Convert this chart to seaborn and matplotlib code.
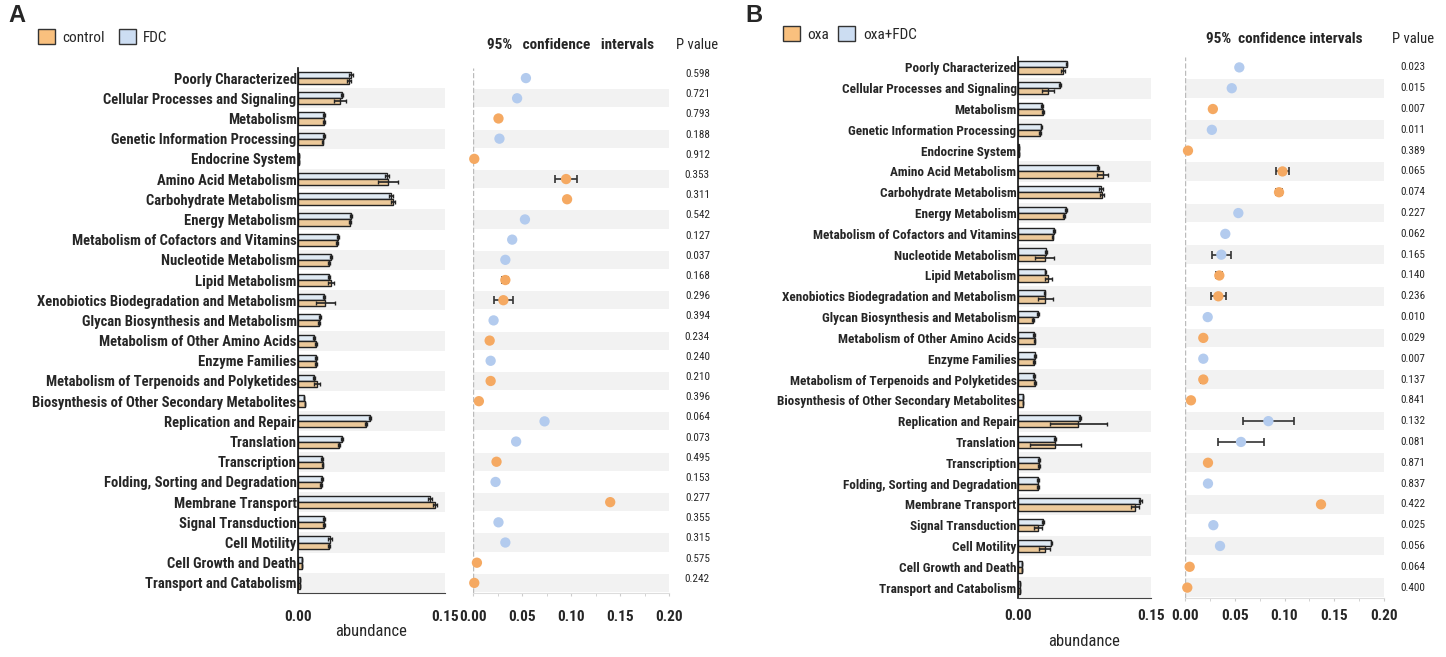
import numpy as np
import pandas as pd
import matplotlib
matplotlib.use('Agg')
import matplotlib.pyplot as plt
import seaborn as sns
from matplotlib.patches import Patch
from matplotlib.ticker import MultipleLocator

pathways = [
    'Poorly Characterized', 'Cellular Processes and Signaling', 'Metabolism',
    'Genetic Information Processing', 'Endocrine System', 'Amino Acid Metabolism',
    'Carbohydrate Metabolism', 'Energy Metabolism', 'Metabolism of Cofactors and Vitamins',
    'Nucleotide Metabolism', 'Lipid Metabolism', 'Xenobiotics Biodegradation and Metabolism',
    'Glycan Biosynthesis and Metabolism', 'Metabolism of Other Amino Acids', 'Enzyme Families',
    'Metabolism of Terpenoids and Polyketides', 'Biosynthesis of Other Secondary Metabolites',
    'Replication and Repair', 'Translation', 'Transcription',
    'Folding, Sorting and Degradation', 'Membrane Transport', 'Signal Transduction',
    'Cell Motility', 'Cell Growth and Death', 'Transport and Catabolism',
]

# panel A: control vs FDC
a_control = [0.052, 0.043, 0.0265, 0.025, 0.0012, 0.092, 0.097, 0.053, 0.040, 0.0316,
             0.034, 0.028, 0.021, 0.0187, 0.018, 0.0197, 0.0068, 0.069, 0.042, 0.025,
             0.023, 0.140, 0.0265, 0.032, 0.0042, 0.0018]
a_fdc = [0.0544, 0.045, 0.0265, 0.0265, 0.0010, 0.0905, 0.095, 0.0537, 0.041, 0.034,
         0.032, 0.0265, 0.0224, 0.0163, 0.0187, 0.016, 0.0062, 0.073, 0.045, 0.024,
         0.024, 0.135, 0.027, 0.033, 0.0036, 0.0016]
a_control_err = [0.002, 0.006, 0.001, 0.001, 0.0, 0.010, 0.002, 0.001, 0.001, 0.001,
                 0.003, 0.010, 0.001, 0.001, 0.001, 0.003, 0.0, 0.001, 0.001, 0.001,
                 0.001, 0.002, 0.001, 0.001, 0.0, 0.0]
a_fdc_err = [0.002, 0.001, 0.001, 0.001, 0.0, 0.002, 0.002, 0.001, 0.001, 0.001,
             0.001, 0.001, 0.001, 0.001, 0.001, 0.001, 0.0, 0.001, 0.001, 0.001,
             0.001, 0.002, 0.001, 0.002, 0.0, 0.0]
a_ci_group = ['FDC', 'FDC', 'control', 'FDC', 'control', 'control', 'control', 'FDC', 'FDC',
              'FDC', 'control', 'control', 'FDC', 'control', 'FDC', 'control', 'control',
              'FDC', 'FDC', 'control', 'FDC', 'control', 'FDC', 'FDC', 'control', 'control']
a_ci_mid = [0.054, 0.045, 0.026, 0.027, 0.0013, 0.095, 0.096, 0.053, 0.040, 0.033,
            0.033, 0.031, 0.021, 0.017, 0.018, 0.018, 0.006, 0.073, 0.044, 0.024,
            0.023, 0.140, 0.026, 0.033, 0.004, 0.0013]
a_ci_half = [0.001, 0.002, 0.0, 0.0, 0.0, 0.011, 0.002, 0.001, 0.0, 0.0,
             0.003, 0.010, 0.001, 0.001, 0.0, 0.002, 0.0, 0.001, 0.001, 0.001,
             0.0, 0.002, 0.001, 0.0, 0.001, 0.0]
a_pvalues = ['0.598', '0.721', '0.793', '0.188', '0.912', '0.353', '0.311', '0.542', '0.127',
             '0.037', '0.168', '0.296', '0.394', '0.234', '0.240', '0.210', '0.396', '0.064',
             '0.073', '0.495', '0.153', '0.277', '0.355', '0.315', '0.575', '0.242']

# panel B: oxa vs oxa+FDC
b_oxa = [0.051, 0.034, 0.028, 0.0245, 0.0012, 0.0955, 0.0945, 0.052, 0.039, 0.030,
         0.034, 0.031, 0.017, 0.0187, 0.0177, 0.0196, 0.0062, 0.068, 0.042, 0.0238,
         0.0228, 0.132, 0.0226, 0.030, 0.0045, 0.0022]
b_oxafdc = [0.0547, 0.047, 0.027, 0.0264, 0.0010, 0.0906, 0.0935, 0.054, 0.0404, 0.0313,
            0.031, 0.030, 0.0226, 0.0177, 0.019, 0.0177, 0.0055, 0.070, 0.0415, 0.0238,
            0.0226, 0.138, 0.0283, 0.0377, 0.0040, 0.0018]
b_oxa_err = [0.002, 0.007, 0.001, 0.001, 0.0, 0.006, 0.002, 0.001, 0.001, 0.011,
             0.004, 0.008, 0.001, 0.001, 0.001, 0.001, 0.0, 0.032, 0.029, 0.001,
             0.001, 0.004, 0.004, 0.006, 0.0, 0.0]
b_oxafdc_err = [0.001, 0.001, 0.001, 0.001, 0.0, 0.001, 0.002, 0.001, 0.001, 0.001,
                0.001, 0.001, 0.001, 0.001, 0.001, 0.001, 0.0, 0.001, 0.001, 0.001,
                0.001, 0.002, 0.001, 0.001, 0.0, 0.0]
b_ci_group = ['oxa+FDC', 'oxa+FDC', 'oxa', 'oxa+FDC', 'oxa', 'oxa', 'oxa', 'oxa+FDC',
              'oxa+FDC', 'oxa+FDC', 'oxa', 'oxa', 'oxa+FDC', 'oxa', 'oxa+FDC', 'oxa', 'oxa',
              'oxa+FDC', 'oxa+FDC', 'oxa', 'oxa+FDC', 'oxa', 'oxa+FDC', 'oxa+FDC', 'oxa', 'oxa']
b_ci_mid = [0.0546, 0.047, 0.028, 0.027, 0.003, 0.098, 0.0945, 0.0536, 0.0405, 0.0365,
            0.0345, 0.0335, 0.0228, 0.0184, 0.0184, 0.0184, 0.006, 0.0838, 0.0563, 0.0231,
            0.0231, 0.1367, 0.0285, 0.0352, 0.0047, 0.0023]
b_ci_half = [0.0, 0.001, 0.0, 0.0, 0.0, 0.0067, 0.003, 0.001, 0.0, 0.0097,
             0.003, 0.0077, 0.0, 0.0, 0.0, 0.002, 0.0, 0.0258, 0.0228, 0.0,
             0.001, 0.002, 0.001, 0.0, 0.001, 0.0]
b_pvalues = ['0.023', '0.015', '0.007', '0.011', '0.389', '0.065', '0.074', '0.227', '0.062',
             '0.165', '0.140', '0.236', '0.010', '0.029', '0.007', '0.137', '0.841', '0.132',
             '0.081', '0.871', '0.837', '0.422', '0.025', '0.056', '0.064', '0.400']

BAR_ORANGE = '#FACB8C'
BAR_BLUE = '#DDEAF6'
PT_ORANGE = '#F5A962'
PT_BLUE = '#B3CBEE'
BAND = '#F2F2F2'

sns.set_style('white')
plt.rcParams['font.family'] = ['Roboto Condensed', 'IBM Plex Sans Condensed',
                               'Liberation Sans', 'DejaVu Sans']

W, H = 1446, 657
fig = plt.figure(figsize=(W / 100, H / 100), dpi=100)


def px_axes(left, right, top, bottom):
    return fig.add_axes([left / W, 1 - bottom / H, (right - left) / W, (bottom - top) / H])


def draw_panel(letter, g1, g2, v1, v2, e1, e2, ci_group, ci_mid, ci_half, pvals,
               bar_box, ci_box, title, letter_xy, legend_xy, tick_pad, xlabel_pad,
               head_y, p_shift, label_size, legend_gap):
    n = len(pathways)
    rows = np.arange(n)

    # ---- abundance bars ----
    ax = px_axes(*bar_box)
    df = pd.DataFrame({
        'pathway': pathways * 2,
        'abundance': v1 + v2,
        'err': e1 + e2,
        'group': [g1] * n + [g2] * n,
    })
    for i in rows[1::2]:
        ax.axhspan(i - 0.5, i + 0.5, color=BAND, zorder=0, lw=0)
    sns.barplot(data=df, x='abundance', y='pathway', hue='group', hue_order=[g2, g1],
                palette={g1: BAR_ORANGE, g2: BAR_BLUE}, orient='h', width=0.6,
                edgecolor='#222222', linewidth=1.0, errorbar=None, legend=False,
                zorder=2, ax=ax)
    # error bars at the bar ends, matched to the patches seaborn drew
    err_lookup = {(r.group, r.pathway): r.err for r in df.itertuples()}
    for p in ax.patches:
        yc = p.get_y() + p.get_height() / 2
        row = int(round(yc))
        grp = g2 if yc < row else g1
        err = err_lookup[(grp, pathways[row])]
        ax.errorbar(p.get_width(), yc, xerr=err, fmt='none', ecolor='#222222',
                    elinewidth=1.2, capsize=1.5, capthick=1.0, zorder=3)
    ax.set_xlim(0, 0.15)
    ax.set_ylim(n - 0.5, -0.5)
    ax.set_xticks([0, 0.15])
    ax.set_xticklabels(['0.00', '0.15'], fontsize=11, fontweight='bold')
    ax.set_ylabel('')
    ax.set_xlabel('abundance', fontsize=12, labelpad=xlabel_pad)
    ax.tick_params(axis='y', length=0, pad=1, labelsize=label_size)
    for lab in ax.get_yticklabels():
        lab.set_fontweight('bold')
    ax.tick_params(axis='x', length=0, pad=tick_pad)
    for s in ['top', 'right']:
        ax.spines[s].set_visible(False)
    ax.spines['left'].set_color('#111111')
    ax.spines['left'].set_linewidth(1.2)
    ax.spines['bottom'].set_color('#444444')
    ax.spines['bottom'].set_linewidth(0.8)

    # ---- confidence interval panel ----
    cx = px_axes(*ci_box)
    cdf = pd.DataFrame({'row': rows, 'mid': ci_mid, 'half': ci_half, 'group': ci_group})
    for i in rows[1::2]:
        cx.axhspan(i - 0.45, i + 0.45, color=BAND, zorder=0, lw=0)
    cx.axvline(0, color='#BBBBBB', ls='--', lw=1, zorder=1)
    cx.errorbar(cdf['mid'], cdf['row'], xerr=cdf['half'], fmt='none', ecolor='#333333',
                elinewidth=1.2, capsize=3, capthick=1.2, zorder=2)
    sns.scatterplot(data=cdf, x='mid', y='row', hue='group',
                    palette={g1: PT_ORANGE, g2: PT_BLUE}, s=55, edgecolor='none',
                    legend=False, zorder=3, clip_on=False, ax=cx)
    cx.set_xlim(0, 0.2)
    cx.set_ylim(n - 0.5, -0.5)
    cx.set_yticks([])
    cx.set_ylabel('')
    cx.set_xlabel('')
    cx.xaxis.set_major_locator(MultipleLocator(0.05))
    cx.xaxis.set_minor_locator(MultipleLocator(0.025))
    cx.set_xticklabels([f'{t:.2f}' for t in cx.get_xticks()], fontsize=11, fontweight='bold')
    cx.tick_params(axis='x', which='both', length=2, color='#CCCCCC', pad=tick_pad - 2,
                   bottom=True)
    for s in ['top', 'right', 'left']:
        cx.spines[s].set_visible(False)
    cx.spines['bottom'].set_color('#DDDDDD')
    ytr = cx.get_yaxis_transform()
    cx.text(0.5, head_y, title, transform=ytr, ha='center', va='center', fontsize=11,
            fontweight='bold')
    cx.text(1.145, head_y, 'P value', transform=ytr, ha='center', va='center',
            fontsize=10.5)
    for i, pv in enumerate(pvals):
        cx.text(1.145, i + p_shift, pv, transform=ytr, ha='center', va='center',
                fontsize=8)

    fig.text(letter_xy[0] / W, 1 - letter_xy[1] / H, letter, fontsize=17, fontweight='bold',
             family=['Liberation Sans', 'DejaVu Sans'], ha='left', va='center')
    handles = [Patch(facecolor='#F9C07E', edgecolor='#333333', label=g1),
               Patch(facecolor='#CCDDF2', edgecolor='#333333', label=g2)]
    fig.legend(handles=handles, loc='upper left',
               bbox_to_anchor=(legend_xy[0] / W, 1 - legend_xy[1] / H), ncol=2,
               frameon=False, fontsize=11, handlelength=1.1, handleheight=1.1,
               handletextpad=0.5, columnspacing=legend_gap, borderaxespad=0, borderpad=0)


draw_panel('A', 'control', 'FDC', a_control, a_fdc, a_control_err, a_fdc_err,
           a_ci_group, a_ci_mid, a_ci_half, a_pvalues,
           bar_box=(298, 445, 68, 593), ci_box=(473, 669, 68, 593),
           title='95%   confidence   intervals', letter_xy=(8, 16), legend_xy=(38, 29),
           tick_pad=12, xlabel_pad=0, head_y=-1.65, p_shift=-0.2, label_size=10.5,
           legend_gap=0.9)
draw_panel('B', 'oxa', 'oxa+FDC', b_oxa, b_oxafdc, b_oxa_err, b_oxafdc_err,
           b_ci_group, b_ci_mid, b_ci_half, b_pvalues,
           bar_box=(1018, 1151, 57, 598), ci_box=(1185, 1384, 57, 598),
           title='95%  confidence intervals', letter_xy=(745, 16), legend_xy=(783, 26),
           tick_pad=8, xlabel_pad=8, head_y=-1.35, p_shift=0.0, label_size=9.5,
           legend_gap=0.6)

fig.savefig('out.png', dpi=100)
